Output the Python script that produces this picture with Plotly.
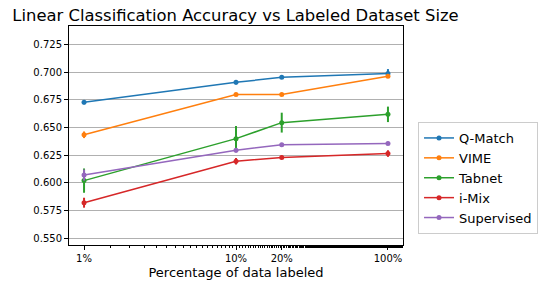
import plotly.graph_objects as go

x_pct = [1, 10, 20, 100]
x_labels = ["1%", "10%", "20%", "100%"]

series_names = ["Q-Match", "VIME", "Tabnet", "i-Mix", "Supervised"]
qmatch = [0.673, 0.691, 0.6955, 0.699]
qmatch_err = [0.002, 0.002, 0.0015, 0.004]
vime = [0.6435, 0.680, 0.680, 0.6965]
vime_err = [0.003, 0.001, 0.001, 0.0015]
tabnet = [0.602, 0.640, 0.6545, 0.662]
tabnet_err = [0.011, 0.0115, 0.009, 0.007]
imix = [0.582, 0.6195, 0.623, 0.6265]
imix_err = [0.0045, 0.003, 0.0015, 0.003]
supervised = [0.607, 0.6295, 0.6345, 0.6357]
supervised_err = [0.005, 0.002, 0.0015, 0.0015]

colors = ["#1f77b4", "#ff7f0e", "#2ca02c", "#d62728", "#9467bd"]
values = [qmatch, vime, tabnet, imix, supervised]
errors = [qmatch_err, vime_err, tabnet_err, imix_err, supervised_err]

fig = go.Figure()
for name, v, e, c in zip(series_names, values, errors, colors):
    fig.add_trace(go.Scatter(
        x=x_pct, y=v, name=name, mode="lines+markers",
        line=dict(color=c, width=1.5),
        marker=dict(symbol="circle", size=5, color=c),
        error_y=dict(type="data", array=e, visible=True, color=c, thickness=2, width=0),
    ))

# page has an 8px body margin: figure drawn at (8, 8)
fig.update_layout(
    width=546, height=278,
    margin=dict(l=61, r=151, t=18, b=41, pad=0),
    paper_bgcolor="white", plot_bgcolor="white",
    font=dict(family="DejaVu Sans", size=10, color="black"),
    title=dict(text="Linear Classification Accuracy vs Labeled Dataset Size",
               x=0.008, xref="container", xanchor="left", y=1, yanchor="top",
               pad=dict(l=0, r=0, t=2, b=0),
               font=dict(size=16.4, color="black")),
    legend=dict(x=1.045, xanchor="left", y=0.306, yanchor="middle",
                bordercolor="#cccccc", borderwidth=1, bgcolor="white",
                font=dict(size=13), itemwidth=30),
    showlegend=True,
)
fig.update_xaxes(
    type="log", range=[-0.099, 2.099],
    tickvals=x_pct, ticktext=x_labels,
    showgrid=False, showline=True, linecolor="black", linewidth=1, mirror=True,
    ticks="outside", ticklen=4, tickcolor="black",
    minor=dict(ticks="outside", ticklen=2, tickcolor="black", showgrid=False),
    title=dict(text="Percentage of data labeled", font=dict(size=13), standoff=4),
    zeroline=False, automargin=False,
)
fig.update_yaxes(
    range=[0.5437, 0.742],
    tickvals=[0.55, 0.575, 0.6, 0.625, 0.65, 0.675, 0.7, 0.725],
    ticktext=["0.550", "0.575", "0.600", "0.625", "0.650", "0.675", "0.700", "0.725"],
    showgrid=True, gridcolor="#b0b0b0", gridwidth=1,
    showline=True, linecolor="black", linewidth=1, mirror=True,
    ticks="outside", ticklen=4, tickcolor="black", zeroline=False, automargin=False,
)

fig.write_html("out.html")
